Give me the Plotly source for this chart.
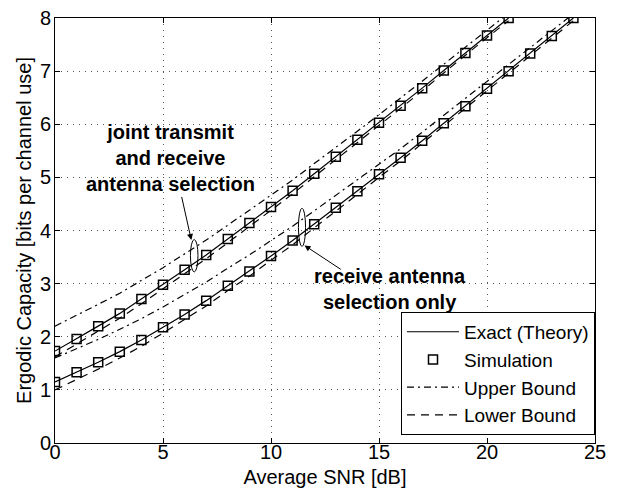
import plotly.graph_objects as go

snr_joint = list(range(0, 22))
joint_exact = [1.73, 1.96, 2.20, 2.44, 2.71, 2.98, 3.26, 3.54, 3.84, 4.14, 4.44,
               4.75, 5.07, 5.39, 5.71, 6.03, 6.35, 6.68, 7.01, 7.34, 7.67, 8.00]
joint_upper = [2.20, 2.40, 2.61, 2.82, 3.06, 3.30, 3.56, 3.82, 4.10, 4.38, 4.66,
               4.95, 5.26, 5.56, 5.87, 6.18, 6.49, 6.81, 7.13, 7.45, 7.77, 8.09]
joint_lower = [1.62, 1.86, 2.10, 2.35, 2.62, 2.90, 3.18, 3.47, 3.77, 4.07, 4.38,
               4.69, 5.01, 5.34, 5.66, 5.98, 6.30, 6.63, 6.97, 7.30, 7.63, 7.95]

snr_rx = list(range(0, 25))
rx_exact = [1.15, 1.33, 1.52, 1.72, 1.94, 2.18, 2.42, 2.68, 2.96, 3.23, 3.52, 3.81,
            4.12, 4.43, 4.74, 5.06, 5.37, 5.69, 6.02, 6.34, 6.67, 7.00, 7.33, 7.66, 8.00]
rx_upper = [1.60, 1.77, 1.95, 2.14, 2.34, 2.56, 2.79, 3.03, 3.29, 3.54, 3.81, 4.08,
            4.37, 4.66, 4.95, 5.25, 5.54, 5.85, 6.17, 6.48, 6.80, 7.12, 7.44, 7.76, 8.08]
rx_lower = [1.00, 1.19, 1.39, 1.60, 1.82, 2.07, 2.32, 2.58, 2.87, 3.14, 3.44, 3.73,
            4.05, 4.36, 4.68, 5.00, 5.31, 5.64, 5.97, 6.29, 6.62, 6.96, 7.29, 7.62, 7.95]

x_ticks = [0, 5, 10, 15, 20, 25]
y_ticks = [0, 1, 2, 3, 4, 5, 6, 7, 8]

BLACK = "black"
DASHDOT = "7px,4px,2px,4px"
DASH = "8px,6px"
FONT = "Liberation Sans, Arial, sans-serif"

fig = go.Figure()

def add(x, y, name, dash=None, mode="lines", show=False):
    if mode == "lines":
        fig.add_trace(go.Scatter(x=x, y=y, mode="lines", name=name, showlegend=show,
                                 line=dict(color=BLACK, width=1.2, dash=dash)))
    else:
        fig.add_trace(go.Scatter(x=x, y=y, mode="markers", name=name, showlegend=show,
                                 marker=dict(symbol="square-open", size=9,
                                             color=BLACK, line=dict(width=1.5, color=BLACK))))

add(snr_joint, joint_exact, "Exact (Theory)", show=True)
add(snr_joint, joint_exact, "Simulation", mode="markers", show=True)
add(snr_joint, joint_upper, "Upper Bound", dash=DASHDOT, show=True)
add(snr_joint, joint_lower, "Lower Bound", dash=DASH, show=True)
add(snr_rx, rx_exact, "Exact (Theory)")
add(snr_rx, rx_exact, "Simulation", mode="markers")
add(snr_rx, rx_upper, "Upper Bound", dash=DASHDOT)
add(snr_rx, rx_lower, "Lower Bound", dash=DASH)

# ellipses
fig.add_shape(type="circle", xref="x", yref="y", x0=6.27, x1=6.62, y0=3.22, y1=3.83,
              line=dict(color=BLACK, width=1))
fig.add_shape(type="circle", xref="x", yref="y", x0=11.27, x1=11.6, y0=3.70, y1=4.42,
              line=dict(color=BLACK, width=1))

# arrows
fig.add_annotation(x=6.31, y=3.82, ax=5.85, ay=4.66, xref="x", yref="y", axref="x", ayref="y",
                   text="", showarrow=True, arrowhead=2, arrowsize=1.2, arrowwidth=1, arrowcolor=BLACK)
fig.add_annotation(x=11.55, y=3.72, ax=13.3, ay=3.25, xref="x", yref="y", axref="x", ayref="y",
                   text="", showarrow=True, arrowhead=2, arrowsize=1.2, arrowwidth=1, arrowcolor=BLACK)

fig.add_annotation(x=5.36, y=5.37, xref="x", yref="y", showarrow=False,
                   text="<b>joint transmit<br>and receive<br>antenna selection</b>",
                   font=dict(family=FONT, size=20, color=BLACK),
                   align="center")
fig.add_annotation(x=15.5, y=2.89, xref="x", yref="y", showarrow=False,
                   text="<b>receive antenna<br>selection only</b>",
                   font=dict(family=FONT, size=20, color=BLACK),
                   align="center")

axis_common = dict(showline=True, linecolor=BLACK, linewidth=1, mirror="ticks",
                   ticks="inside", ticklen=5, tickcolor=BLACK, automargin=False,
                   ticklabeloverflow="allow",
                   showgrid=True, gridcolor="#555555", griddash="1px,5px", gridwidth=1,
                   zeroline=False, tickfont=dict(family=FONT, size=20, color=BLACK))

fig.update_xaxes(range=[0, 25], tickvals=x_ticks, ticktext=[str(v) for v in x_ticks],
                 ticklabelstandoff=-9,
                 title=dict(text="Average SNR [dB]", font=dict(family=FONT, size=20, color=BLACK),
                            standoff=7),
                 **axis_common)
fig.update_yaxes(range=[0, 8], tickvals=y_ticks, ticktext=[str(v) for v in y_ticks],
                 ticklabelstandoff=-1,
                 title=dict(text="Ergodic Capacity [bits per channel use]",
                            font=dict(family=FONT, size=20, color=BLACK), standoff=2),
                 **axis_common)

fig.update_layout(
    width=625, height=484,
    margin=dict(l=47, r=38, t=10, b=49),
    paper_bgcolor="white", plot_bgcolor="white",
    font=dict(family=FONT, color=BLACK),
    legend=dict(x=1, y=0.019, xanchor="right", yanchor="bottom",
                bgcolor="white", bordercolor=BLACK, borderwidth=1,
                font=dict(family=FONT, size=19, color=BLACK), tracegroupgap=0,
                itemwidth=52),
)

fig.write_html("out.html")
